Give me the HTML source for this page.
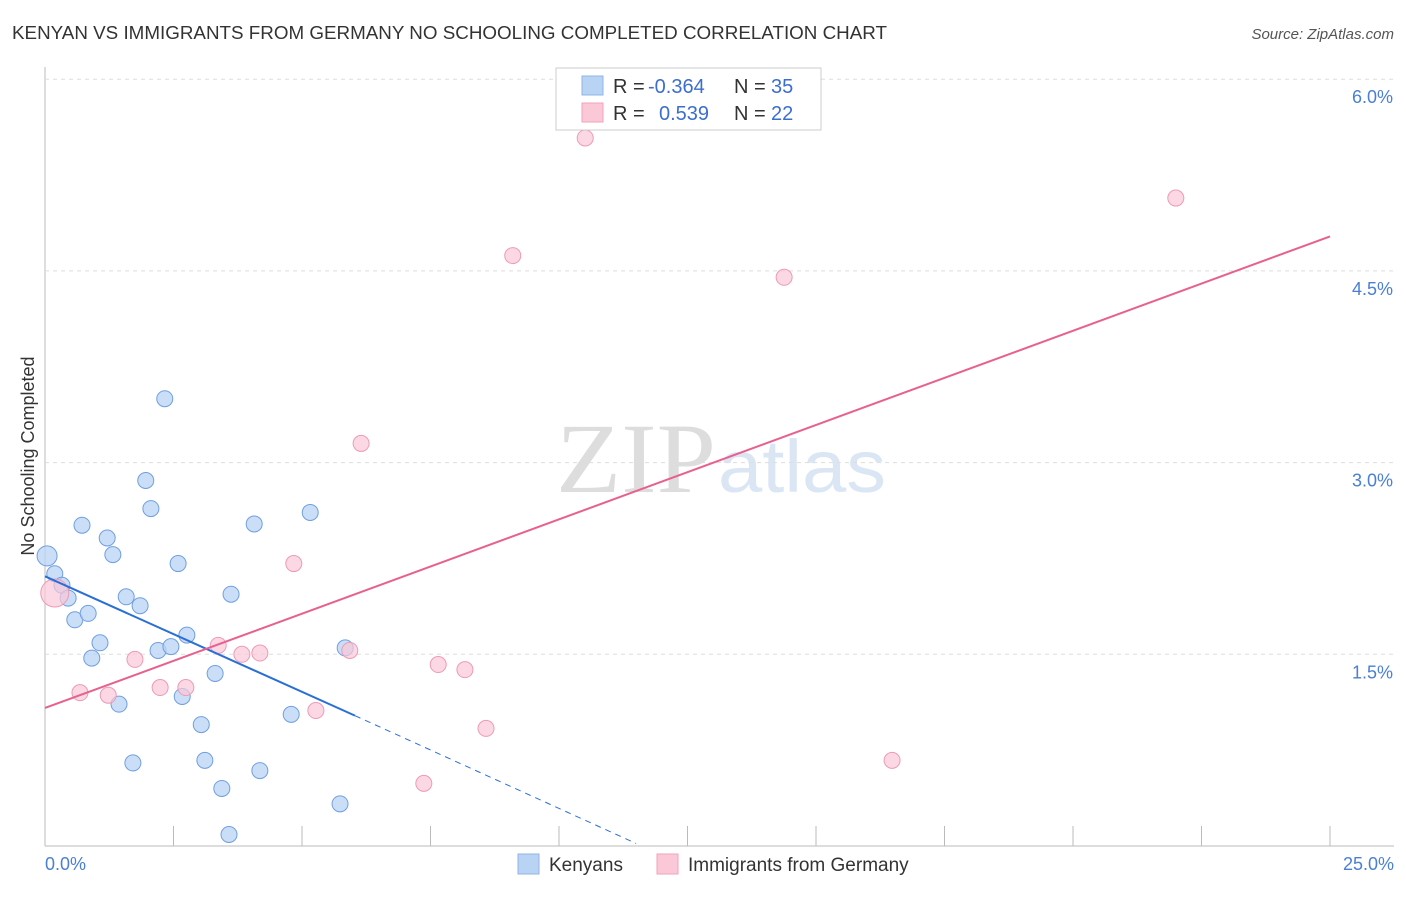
<!DOCTYPE html>
<html><head><meta charset="utf-8"><style>
body{margin:0;background:#fff;font-family:"Liberation Sans",sans-serif}
</style></head><body>
<svg id="chart" width="1406" height="892" xmlns="http://www.w3.org/2000/svg">
<text x="12" y="39" font-size="18" fill="#333" textLength="875" lengthAdjust="spacingAndGlyphs">KENYAN VS IMMIGRANTS FROM GERMANY NO SCHOOLING COMPLETED CORRELATION CHART</text>
<text x="1394" y="39" font-size="15" fill="#555" font-style="italic" text-anchor="end">Source: ZipAtlas.com</text>
<text x="716" y="492" font-size="100" fill="#ddd" text-anchor="end" font-family="Liberation Serif" textLength="160" lengthAdjust="spacingAndGlyphs">ZIP</text>
<text x="718" y="492" font-size="74" fill="#dbe6f5" textLength="168" lengthAdjust="spacingAndGlyphs">atlas</text>
<g id="grid"></g>
<g id="marks"></g>
<text transform="translate(34,456) rotate(-90)" font-size="18" fill="#333" text-anchor="middle">No Schooling Completed</text>
<text x="45" y="870" font-size="18" fill="#4a7fd4">0.0%</text>
<text x="1394" y="870" font-size="18" fill="#4a7fd4" text-anchor="end">25.0%</text>
<g>
<rect x="556" y="68" width="265" height="62" fill="#fff" stroke="#ccc"/>
<rect x="582" y="76" width="21" height="19" fill="#b9d3f5" stroke="#8fb5e8"/>
<rect x="582" y="103" width="21" height="19" fill="#fac8d7" stroke="#f0a3bb"/>
<text x="613" y="93" font-size="20" fill="#333">R =</text><text x="648" y="93" font-size="20" fill="#3a6fcf">-0.364</text>
<text x="734" y="93" font-size="20" fill="#333">N =</text><text x="771" y="93" font-size="20" fill="#3a6fcf">35</text>
<text x="613" y="120" font-size="20" fill="#333">R =</text><text x="659" y="120" font-size="20" fill="#3a6fcf">0.539</text>
<text x="734" y="120" font-size="20" fill="#333">N =</text><text x="771" y="120" font-size="20" fill="#3a6fcf">22</text>
</g>
<g>
<rect x="518" y="854" width="21" height="20" fill="#b9d3f5" stroke="#8fb5e8"/>
<text x="549" y="871" font-size="19" fill="#333">Kenyans</text>
<rect x="657" y="854" width="21" height="20" fill="#fac8d7" stroke="#f0a3bb"/>
<text x="688" y="871" font-size="19" fill="#333">Immigrants from Germany</text>
</g>
</svg>
<script>
const yTicks=[1.5,3.0,4.5,6.0];
const xTicks=[0,2.5,5,7.5,10,12.5,15,17.5,20,22.5,25];
const blueX=[0.04,0.19,0.33,0.45,0.58,0.72,0.84,0.91,1.07,1.21,1.32,1.44,1.58,1.71,1.85,1.96,2.06,2.20,2.33,2.45,2.59,2.67,2.76,3.04,3.11,3.31,3.44,3.58,3.62,4.07,4.18,4.79,5.16,5.74,5.84];
const blueY=[2.27,2.13,2.04,1.94,1.77,2.51,1.82,1.47,1.59,2.41,2.28,1.11,1.95,0.65,1.88,2.86,2.64,1.53,3.50,1.56,2.21,1.17,1.65,0.95,0.67,1.35,0.45,0.09,1.97,2.52,0.59,1.03,2.61,0.33,1.55];
const pinkX=[0.19,0.68,1.23,1.75,2.24,2.74,3.37,3.83,4.18,4.84,5.27,5.93,6.15,7.37,7.65,8.17,8.58,9.10,10.51,14.38,16.48,22.00];
const pinkY=[1.98,1.20,1.18,1.46,1.24,1.24,1.57,1.50,1.51,2.21,1.06,1.53,3.15,0.49,1.42,1.38,0.92,4.62,5.54,4.45,0.67,5.07];
const blueLine=[[0,2.11],[6.03,1.02],[11.5,0.02]];
const pinkLine=[[0,1.08],[25,4.77]];
const X=v=>45+v/25*1285, Y=v=>846-v*127.8;
const NS="http://www.w3.org/2000/svg";
const grid=document.getElementById('grid'), marks=document.getElementById('marks');
function mk(tag,attrs,parent){const e=document.createElementNS(NS,tag);for(const k in attrs)e.setAttribute(k,attrs[k]);parent.appendChild(e);return e;}
let ax=mk('line',{x1:45,y1:67,x2:45,y2:846,stroke:'#bbb'},grid);


let bx=mk('line',{x1:45,y1:846,x2:1394,y2:846,stroke:'#bbb'},grid);


yTicks.forEach(t=>{
 let g=mk('line',{x1:45,x2:1394,y1:Y(t),y2:Y(t),stroke:'#ddd','stroke-dasharray':'4,4'},grid);
 
 
 let l=mk('text',{x:1393,y:Y(t)+24,'font-size':18,fill:'#4a7fd4','text-anchor':'end'},grid);
 l.textContent=t.toFixed(1)+'%';
 
 
});
xTicks.forEach(t=>{
 let k=mk('line',{x1:X(t),x2:X(t),y1:826,y2:846,stroke:'#bbb'},grid);
 
 
});
blueX.forEach((v,i)=>{
 let c=mk('circle',{cx:X(v),cy:Y(blueY[i]),r:i==0?10:8,fill:'#b9d3f5','fill-opacity':0.75,stroke:'#6f9fe0','stroke-width':1},marks);
 
 
});
pinkX.forEach((v,i)=>{
 let c=mk('circle',{cx:X(v),cy:Y(pinkY[i]),r:i==0?14:8,fill:'#fac8d7','fill-opacity':0.7,stroke:'#ee9ab5','stroke-width':1},marks);
 
 
});
let b1=mk('line',{x1:X(blueLine[0][0]),y1:Y(blueLine[0][1]),x2:X(blueLine[1][0]),y2:Y(blueLine[1][1]),stroke:'#2a6fd6','stroke-width':2},marks);


let b2=mk('line',{x1:X(blueLine[1][0]),y1:Y(blueLine[1][1]),x2:X(blueLine[2][0]),y2:Y(blueLine[2][1]),stroke:'#2a6fd6','stroke-width':1,'stroke-dasharray':'6,5'},marks);


let p1=mk('line',{x1:X(pinkLine[0][0]),y1:Y(pinkLine[0][1]),x2:X(pinkLine[1][0]),y2:Y(pinkLine[1][1]),stroke:'#e8608e','stroke-width':2},marks);


</script>
</body></html>
